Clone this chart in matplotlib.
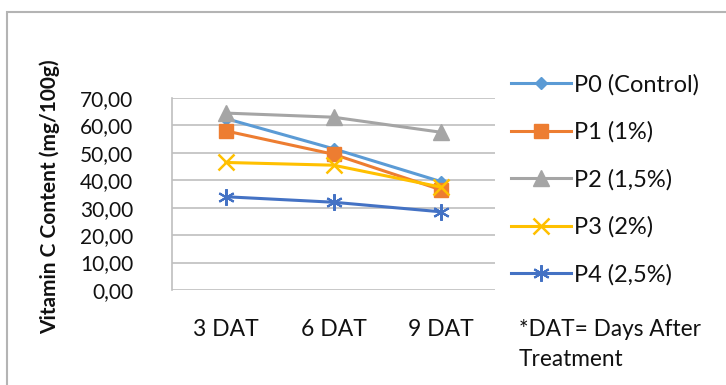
import matplotlib
matplotlib.use("Agg")
import matplotlib.pyplot as plt
from matplotlib.patches import Rectangle

categories = ["3 DAT", "6 DAT", "9 DAT"]
series_names = ["P0 (Control)", "P1 (1%)", "P2 (1,5%)", "P3 (2%)", "P4 (2,5%)"]
p0 = [62.5, 51.5, 39.5]
p1 = [58.0, 49.5, 36.5]
p2 = [64.5, 63.0, 57.5]
p3 = [46.5, 45.5, 37.5]
p4 = [34.0, 32.0, 28.5]
yticks = [0, 10, 20, 30, 40, 50, 60, 70]
ytick_labels = ["0,00", "10,00", "20,00", "30,00", "40,00", "50,00", "60,00", "70,00"]

plt.rcParams['font.family'] = ['Lato', 'DejaVu Sans']

W, H = 726, 385
fig = plt.figure(figsize=(W / 100, H / 100), dpi=100)
ax = fig.add_axes([172 / W, 1 - 290 / H, (495 - 172) / W, (290 - 98) / H])

# outer frame
fig.patches.append(Rectangle((7 / W, -0.1), 1.2, 1 - 12 / H + 0.1, transform=fig.transFigure,
                             fill=False, edgecolor='#b4b4b4', linewidth=1.5))

styles = [
    dict(color='#5b9bd5', marker='D', markersize=6),
    dict(color='#ed7d31', marker='s', markersize=10),
    dict(color='#a5a5a5', marker='^', markersize=11),
    dict(color='#ffc000', marker='x', markersize=11, markeredgewidth=1.8),
    dict(color='#4472c4', marker=(6, 2, 0), markersize=12, markeredgewidth=1.5),
]
x = list(range(len(categories)))
for name, vals, st in zip(series_names, [p0, p1, p2, p3, p4], styles):
    ax.plot(x, vals, linewidth=2.2, label=name, **st)

txt = '#111111'
ax.set_xlim(-0.5, 2.5)
ax.set_ylim(0, 70)
ax.set_yticks(yticks)
ax.set_yticklabels(ytick_labels, fontsize=15, color=txt)
ax.set_xticks(x)
ax.set_xticklabels(categories, fontsize=16.5, color=txt)
ax.tick_params(axis='y', length=0, pad=28)
ax.tick_params(axis='x', length=0, pad=21)
ax.grid(axis='y', color='#bfbfbf', linewidth=1.2)
ax.set_axisbelow(True)
for s in ['top', 'right', 'bottom']:
    ax.spines[s].set_visible(False)
ax.spines['left'].set_color('#bfbfbf')
ax.spines['left'].set_linewidth(1.2)

fig.text(50 / W, 1 - 197 / H, "Vitamin C Content (mg/100g)", rotation=90, fontsize=15,
         fontweight='bold', ha='center', va='center', color=txt)

leg = ax.legend(loc='upper left', bbox_to_anchor=(511 / W, 1 - 74 / H), bbox_transform=fig.transFigure,
                frameon=False, fontsize=17, handlelength=2.55, labelspacing=1.1, handletextpad=0.1,
                borderaxespad=0, borderpad=0)
for t in leg.get_texts():
    t.set_color(txt)

fig.text(519 / W, 1 - 330 / H, "*DAT= Days After", fontsize=16.3, ha='left', va='center', color=txt)
fig.text(519 / W, 1 - 360 / H, "Treatment", fontsize=16.3, ha='left', va='center', color=txt)

fig.savefig("out.png", dpi=100)
